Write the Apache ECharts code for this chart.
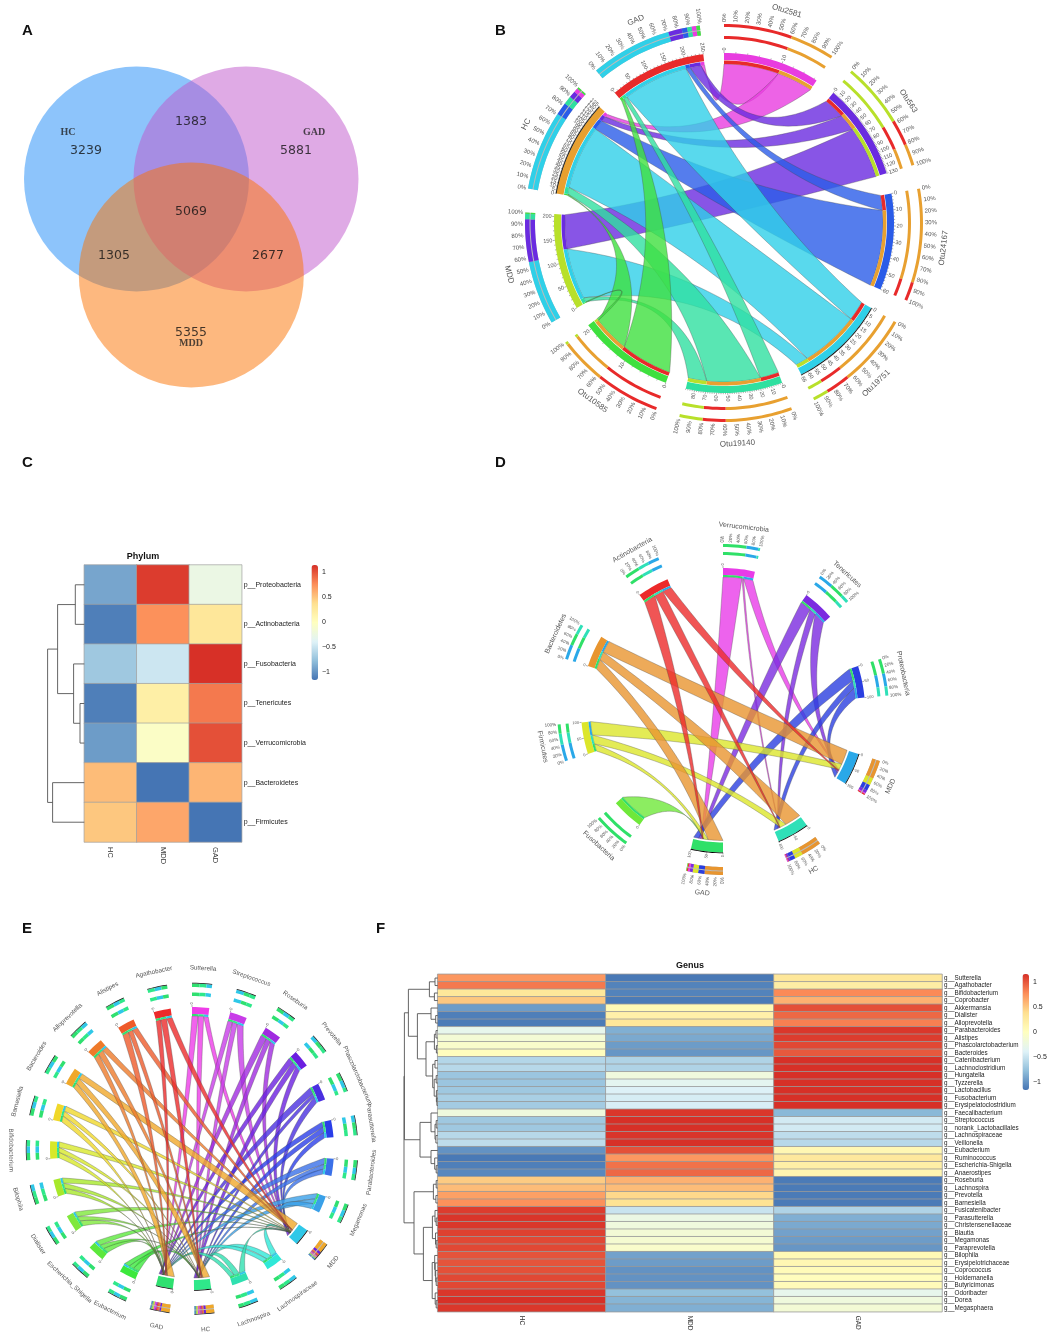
<!DOCTYPE html>
<html>
<head>
<meta charset="utf-8">
<script src="https://cdn.jsdelivr.net/npm/echarts@6/dist/echarts.min.js"></script>
<style>html,body{margin:0;padding:0;background:#fff}#main{width:1051px;height:1339px}</style>
</head>
<body>
<div id="main"></div>
<script>
// A - venn
var vennSets = ['HC', 'GAD', 'MDD'];
var vennCounts = [3239, 5881, 5355, 1383, 1305, 2677, 5069];

// C - phylum heatmap
var phylaRows = ['p__Proteobacteria', 'p__Actinobacteria', 'p__Fusobacteria', 'p__Tenericutes', 'p__Verrucomicrobia', 'p__Bacteroidetes', 'p__Firmicutes'];
var heatCols = ['HC', 'MDD', 'GAD'];
var phylaHC = [-0.9, -1.1, -0.7, -1.1, -0.95, 0.55, 0.5];
var phylaMDD = [1.1, 0.75, -0.48, 0.2, -0.05, -1.15, 0.65];
var phylaGAD = [-0.25, 0.3, 1.15, 0.85, 1.02, 0.58, -1.15];
// merges as [height, left, right], 0 is a leaf
var phylaTree = [36.7, [26.7, [9, 0, 0], [10.7, 0, [4.3, 0, 0]]], [31.7, 0, 0]];

// F - genus heatmap
var genusRows = ['g__Sutterella', 'g__Agathobacter', 'g__Bifidobacterium', 'g__Coprobacter', 'g__Akkermansia', 'g__Dialister', 'g__Alloprevotella', 'g__Parabacteroides', 'g__Alistipes', 'g__Phascolarctobacterium', 'g__Bacteroides', 'g__Catenibacterium', 'g__Lachnoclostridium', 'g__Hungatella', 'g__Tyzzerella', 'g__Lactobacillus', 'g__Fusobacterium', 'g__Erysipelatoclostridium', 'g__Faecalibacterium', 'g__Streptococcus', 'g__norank_Lactobacillales', 'g__Lachnospiraceae', 'g__Veillonella', 'g__Eubacterium', 'g__Ruminococcus', 'g__Escherichia-Shigella', 'g__Anaerostipes', 'g__Roseburia', 'g__Lachnospira', 'g__Prevotella', 'g__Barnesiella', 'g__Fusicatenibacter', 'g__Parasutterella', 'g__Christensenellaceae', 'g__Blautia', 'g__Megamonas', 'g__Paraprevotella', 'g__Bilophila', 'g__Erysipelotrichaceae', 'g__Coprococcus', 'g__Holdemanella', 'g__Butyricimonas', 'g__Odoribacter', 'g__Dorea', 'g__Megasphaera'];
var genusHC = [0.72, 0.85, 0.3, 0.5, -0.95, -1.1, -1.12, -0.3, -0.15, -0.08, 0.02, -0.6, -0.58, -0.72, -0.72, -0.7, -0.65, -0.68, -0.2, -0.7, -0.7, -0.58, -0.55, -1.0, -1.13, -1.1, -1.05, 0.48, 0.55, 0.68, 0.75, 1.1, 1.13, 1.12, 1.08, 1.05, 1.05, 1.0, 1.0, 1.02, 1.05, 1.05, 1.12, 1.15, 1.12];
var genusMDD = [-1.13, -1.08, -1.08, -1.12, 0.08, 0.18, 0.3, -0.85, -0.88, -0.95, -0.98, -0.62, -0.62, -0.2, -0.33, -0.4, -0.43, -0.42, 1.12, 1.15, 1.15, 1.13, 1.15, 1.02, 0.72, 0.88, 0.92, 0.6, 0.55, 0.42, 0.35, -0.5, -0.25, -0.2, -0.15, -0.12, -0.08, -0.92, -0.95, -1.0, -1.0, -1.0, -0.75, -0.82, -0.85];
var genusGAD = [0.3, 0.22, 0.78, 0.6, 1.02, 0.92, 0.82, 1.12, 1.1, 1.05, 0.98, 1.15, 1.15, 1.15, 1.15, 1.15, 1.15, 1.15, -0.8, -0.45, -0.45, -0.55, -0.58, 0.1, 0.28, 0.2, 0.12, -1.12, -1.12, -1.12, -1.12, -0.62, -0.85, -0.88, -0.92, -0.95, -0.98, 0.08, 0.1, 0.05, 0.02, 0.05, -0.3, -0.2, -0.15];
var genusTree = [33.7,
  [33.3,
    [29.3,
      [8.3, [2.7, 0, 0], [3.3, 0, 0]],
      [20.3,
        [6.7, 0, [2, 0, 0]],
        [11.7,
          [3.3, [1.7, 0, 0], [1.3, 0, 0]],
          [5, [2.7, 0, 0], [3.5, [1.5, 0, 0], [1.3, 0, [0.8, 0, 0]]]]]]],
    [17.7,
      [6.7, 0, [2.7, [1.5, 0, 0], [1.8, 0, 0]]],
      [6.7, 0, [3, 0, [1.5, 0, 0]]]]],
  [23.7,
    [4.3, [1.5, 0, 0], [1.8, 0, 0]],
    [14.3,
      [5.3, [2.7, 0, [1.5, 0, 0]], [2.2, 0, [1.5, 0, 0]]],
      [5.5, [3, 0, [2.5, 0, [2, 0, [1.5, 0, 0]]]], [2.5, 0, [1.5, 0, 0]]]]]];
var heatColors = ['#4575b4', '#91bfdb', '#e0f3f8', '#ffffbf', '#fee090', '#fc8d59', '#d73027'];
var barTicks = [-1, -0.5, 0, 0.5, 1];

// B - otu chord. Each node lists its ribbons clockwise: [other node, width in that node's own units]
var otuNodes = ['Otu2581', 'Otu563', 'Otu24167', 'Otu19751', 'Otu19140', 'Otu10585', 'MDD', 'HC', 'GAD'];
var otuColors = ['#e83ce0', '#6a2be0', '#2a5ce8', '#2fd0e8', '#2fe0a0', '#3fe03f', '#b8e02a', '#e8a030', '#e82a2a'];
var otuEnds = {
  Otu2581: [['GAD', 10], ['HC', 6.5]],
  Otu563: [['GAD', 30], ['HC', 25], ['MDD', 75]],
  Otu24167: [['GAD', 10], ['HC', 50]],
  Otu19751: [['GAD', 14], ['HC', 42], ['MDD', 9]],
  Otu19140: [['GAD', 18], ['HC', 52], ['MDD', 18]],
  Otu10585: [['GAD', 12], ['HC', 8.5], ['MDD', 0.5]],
  MDD: [['Otu10585', 2], ['Otu19140', 10], ['Otu19751', 116], ['Otu563', 77]],
  HC: [['Otu10585', 2], ['Otu19140', 10], ['Otu19751', 95], ['Otu24167', 15], ['Otu563', 8], ['Otu2581', 5]],
  GAD: [['Otu10585', 8], ['Otu19140', 10], ['Otu19751', 180], ['Otu24167', 12], ['Otu563', 30], ['Otu2581', 10]]
};
var otuTickStep = { Otu2581: 10, Otu563: 10, Otu24167: 10, Otu19751: 5, Otu19140: 10, Otu10585: 10, MDD: 50, HC: 5, GAD: 50 };

// D - phylum chord
var phylaNodes = ['Verrucomicrobia', 'Tenericutes', 'Proteobacteria', 'MDD', 'HC', 'GAD', 'Fusobacteria', 'Firmicutes', 'Bacteroidetes', 'Actinobacteria'];
var phylaColors = ['#e83ce8', '#7b2be0', '#2a3ee0', '#2aa8e8', '#2fe0b8', '#2fe068', '#6fe83a', '#dce62a', '#e8952f', '#ec2a2a'];
var phylaEnds = {
  Verrucomicrobia: [['GAD', 60], ['HC', 5], ['MDD', 30]],
  Tenericutes: [['GAD', 38], ['HC', 22], ['MDD', 40]],
  Proteobacteria: [['GAD', 40], ['HC', 25], ['MDD', 35]],
  MDD: [['Bacteroidetes', 50], ['Firmicutes', 20], ['Verrucomicrobia', 3], ['Actinobacteria', 3], ['Tenericutes', 8], ['Proteobacteria', 16]],
  HC: [['Bacteroidetes', 55], ['Firmicutes', 22], ['Actinobacteria', 2], ['Verrucomicrobia', 2], ['Tenericutes', 5], ['Proteobacteria', 14]],
  GAD: [['Bacteroidetes', 50], ['Firmicutes', 15], ['Fusobacteria', 2], ['Actinobacteria', 3], ['Verrucomicrobia', 5], ['Tenericutes', 8], ['Proteobacteria', 17]],
  Fusobacteria: [['GAD', 100]],
  Firmicutes: [['GAD', 25], ['HC', 30], ['MDD', 45]],
  Bacteroidetes: [['GAD', 33], ['HC', 27], ['MDD', 40]],
  Actinobacteria: [['GAD', 40], ['HC', 30], ['MDD', 30]]
};
var phylaTickStep = { Firmicutes: 50, Proteobacteria: 50, MDD: 50, HC: 50, GAD: 50 };

// E - genus chord
var genusNodes = ['Sutterella', 'Streptococcus', 'Roseburia', 'Prevotella', 'Phascolarctobacterium', 'Parasutterella', 'Parabacteroides', 'Megamonas', 'MDD', 'Lachnospiraceae', 'Lachnospira', 'HC', 'GAD', 'Eubacterium', 'Escherichia_Shigella', 'Dialister', 'Bilophila', 'Bifidobacterium', 'Barnesiella', 'Bacteroides', 'Alloprevotella', 'Alistipes', 'Agathobacter'];
var genusColors = ['#ee3ce8', '#c83ce8', '#a02be0', '#6a1fe0', '#4a2fe0', '#2a3ee8', '#3a70e8', '#3aa0e8', '#2fc8e8', '#2fe8d8', '#2fe0b0', '#2fe88a', '#2fe070', '#3ce83c', '#5ce83c', '#80e83c', '#a8e82a', '#d8e82a', '#f0d82a', '#f0a82a', '#ee7a2a', '#ee5a2a', '#ec2a2a'];
var genusTaxa = ['Sutterella', 'Streptococcus', 'Roseburia', 'Prevotella', 'Phascolarctobacterium', 'Parasutterella', 'Parabacteroides', 'Megamonas', 'Lachnospiraceae', 'Lachnospira', 'Eubacterium', 'Escherichia_Shigella', 'Dialister', 'Bilophila', 'Bifidobacterium', 'Barnesiella', 'Bacteroides', 'Alloprevotella', 'Alistipes', 'Agathobacter'];
var taxonToGAD = [38, 30, 38, 33, 40, 33, 38, 35, 30, 28, 38, 35, 36, 34, 36, 38, 32, 34, 40, 30];
var taxonToHC = [34, 30, 30, 33, 22, 33, 30, 32, 33, 34, 30, 30, 30, 33, 30, 30, 34, 34, 28, 36];
var taxonToMDD = [28, 40, 32, 34, 38, 34, 32, 33, 37, 38, 32, 35, 34, 33, 34, 32, 34, 32, 32, 34];
var widthAtGAD = [3, 3, 4, 6, 1, 1, 1, 0.6, 0.4, 0.6, 1, 1.2, 1.5, 1, 1.5, 2, 32, 4, 4, 4];
var widthAtHC = [3, 3, 4, 8, 1, 1, 1, 0.6, 0.4, 0.6, 1, 1, 1.5, 1, 1.5, 2, 30, 4, 3, 4];
var widthAtMDD = [2, 2, 3, 10, 1, 1, 1, 1, 0.4, 0.6, 1, 1, 1.5, 1, 1, 2, 38, 3, 3, 3];
var groupStackOrder = ['Bacteroides', 'Alloprevotella', 'Alistipes', 'Agathobacter', 'Barnesiella', 'Bifidobacterium', 'Bilophila', 'Dialister', 'Escherichia_Shigella', 'Eubacterium', 'Lachnospira', 'Lachnospiraceae', 'Megamonas', 'Parabacteroides', 'Parasutterella', 'Phascolarctobacterium', 'Sutterella', 'Streptococcus', 'Roseburia', 'Prevotella'];

var genusEnds = {};
genusTaxa.forEach(function (t, i) {
  var toG = ['GAD', taxonToGAD[i]], toH = ['HC', taxonToHC[i]], toM = ['MDD', taxonToMDD[i]];
  // the two taxa just after MDD face it first
  genusEnds[t] = (t === 'Lachnospiraceae' || t === 'Lachnospira') ? [toM, toH, toG] : [toG, toH, toM];
});
genusEnds.GAD = groupStackOrder.map(function (t) { return [t, widthAtGAD[genusTaxa.indexOf(t)]]; });
genusEnds.HC = groupStackOrder.map(function (t) { return [t, widthAtHC[genusTaxa.indexOf(t)]]; });
genusEnds.MDD = groupStackOrder.map(function (t) { return [t, widthAtMDD[genusTaxa.indexOf(t)]]; });

function sumEnds(list) {
  return list.reduce(function (s, e) { return s + e[1]; }, 0);
}

// turns one panel's node table into a flat list of things to draw
function buildChord(p) {
  var items = [];
  var groups = ['MDD', 'HC', 'GAD'];
  var pos = {};
  p.nodes.forEach(function (name, i) {
    var start = i * p.period;
    var total = sumEnds(p.ends[name]);
    var k = p.span / total;
    var acc = start;
    pos[name] = { start: start, k: k, total: total, color: p.colors[i], at: {} };
    p.ends[name].forEach(function (e) {
      pos[name].at[e[0]] = [acc, acc + e[1] * k];
      acc += e[1] * k;
    });
  });

  // ribbons, taxa go out to groups
  p.nodes.forEach(function (name) {
    if (groups.indexOf(name) >= 0) return;
    p.ends[name].forEach(function (e) {
      var a = pos[name].at[e[0]];
      var b = pos[e[0]].at[name];
      items.push({ type: 'ribbon', a: a, b: b, color: pos[name].color, r: p.rib, rb: p.groupRib || p.rib });
    });
  });

  p.nodes.forEach(function (name) {
    var n = pos[name];
    var isGroup = groups.indexOf(name) >= 0;
    var rings = isGroup ? p.groupRings : p.rings;
    var arcR = (isGroup && p.groupNode) || p.node;
    items.push({ type: 'band', r0: arcR[0], r1: arcR[1], a0: n.start, a1: n.start + p.span, color: n.color });
    if (p.edges && p.edges.indexOf(name) >= 0) {
      items.push({ type: 'band', r0: arcR[1], r1: arcR[1] + 0.8, a0: n.start, a1: n.start + p.span, color: '#000' });
    }
    // thin ring next to the ribbons
    if (!isGroup || p.groupThin) {
      p.ends[name].forEach(function (e) {
        var at = n.at[e[0]];
        items.push({ type: 'band', r0: p.thin[0], r1: p.thin[1], a0: at[0], a1: at[1], color: pos[e[0]].color });
      });
    }
    // the two percent rings, largest share first
    var sorted = p.ends[name].slice().sort(function (x, y) { return y[1] - x[1]; });
    if (isGroup) {
      items.push({ type: 'band', r0: rings[0][0], r1: rings[1][1], a0: n.start, a1: n.start + p.span, color: '#bbb' });
    }
    rings.forEach(function (ring, ri) {
      var acc = n.start;
      sorted.forEach(function (e) {
        var w = e[1] * n.k;
        items.push({ type: 'band', r0: ring[0], r1: ring[1], a0: acc, a1: acc + w, color: pos[e[0]].color });
        acc += w;
      });
      if (p.ringEdge && ri === 1) {
        items.push({ type: 'band', r0: ring[1], r1: ring[1] + 0.7, a0: n.start, a1: n.start + p.span, color: '#111' });
      }
    });
    // percent labels outside the rings
    if (p.pctStep) {
      for (var q = 0; q <= 100; q += p.pctStep) {
        items.push({ type: 'radial', r: p.pctR, a: n.start + p.span * q / 100, text: q + '%', size: p.pctSize });
      }
    }
    // node axis
    var step = p.ticks[name];
    var major = step || n.total * 2;
    for (var v = 0; v <= n.total + 0.001; v += major) {
      var ang = n.start + v * n.k;
      items.push({ type: 'tick', r0: arcR[1], r1: arcR[1] + 2, a: ang });
      items.push({ type: 'radial', r: arcR[1] + 2.5, a: ang, text: String(v), size: p.tickSize });
      if (step && p.minor) {
        for (var m = 1; m < 5; m++) {
          var am = ang + m * step / 5 * n.k;
          if (am <= n.start + p.span) items.push({ type: 'tick', r0: arcR[1], r1: arcR[1] + 1.2, a: am });
        }
      }
    }
    items.push({ type: 'name', r: p.nameR, a: n.start + p.span / 2, text: name, size: p.nameSize });
  });
  return items;
}

function renderChord(items, p) {
  return function (params, api) {
    var it = items[params.dataIndex];
    var xy = function (r, a) { return api.coord([r, a]).slice(0, 2); };
    if (it.type === 'band') {
      var pts = [], n = Math.max(2, Math.ceil((it.a1 - it.a0) / 1.5)), i;
      for (i = 0; i <= n; i++) pts.push(xy(it.r1, it.a0 + (it.a1 - it.a0) * i / n));
      for (i = n; i >= 0; i--) pts.push(xy(it.r0, it.a0 + (it.a1 - it.a0) * i / n));
      return { type: 'polygon', shape: { points: pts }, style: { fill: it.color } };
    }
    if (it.type === 'ribbon') {
      var out = [];
      var arc = function (r, from, to) {
        var c = Math.max(2, Math.ceil((to - from) / 1.5));
        for (var j = 0; j <= c; j++) out.push(xy(r, from + (to - from) * j / c));
      };
      // each edge bows towards the middle by a share of how far its chord stays from the centre
      var curve = function (r0, from, r1, to) {
        var d = ((to - from + 540) % 360) - 180;
        var mid = (from + d / 2 + 360) % 360;
        var ctrl = xy(p.bend * r0 * Math.cos(d / 2 * Math.PI / 180), mid);
        var s = xy(r0, from), e = xy(r1, to);
        for (var j = 1; j < 40; j++) {
          var t = j / 40, u = 1 - t;
          out.push([u * u * s[0] + 2 * u * t * ctrl[0] + t * t * e[0], u * u * s[1] + 2 * u * t * ctrl[1] + t * t * e[1]]);
        }
      };
      arc(it.r, it.a[0], it.a[1]);
      curve(it.r, it.a[1], it.rb, it.b[0]);
      arc(it.rb, it.b[0], it.b[1]);
      curve(it.rb, it.b[1], it.r, it.a[0]);
      return {
        type: 'polygon',
        shape: { points: out },
        style: { fill: it.color, opacity: 0.8, stroke: '#444', lineWidth: 0.4 }
      };
    }
    if (it.type === 'tick') {
      var t0 = xy(it.r0, it.a), t1 = xy(it.r1, it.a);
      return { type: 'line', shape: { x1: t0[0], y1: t0[1], x2: t1[0], y2: t1[1] }, style: { stroke: '#333', lineWidth: 0.4 } };
    }
    // text, either pointing outwards or following the circle
    var at = xy(it.r, it.a), rot, align;
    if (it.type === 'radial') {
      var right = it.a < 180;
      rot = (right ? 90 - it.a : 270 - it.a) * Math.PI / 180;
      align = right ? 'left' : 'right';
    } else {
      var deg = (it.a > 90 && it.a < 270) ? it.a - 180 : it.a;
      rot = -deg * Math.PI / 180;
      align = 'center';
    }
    return {
      type: 'text', x: at[0], y: at[1], rotation: rot,
      style: { text: it.text, fontSize: it.size, fontFamily: 'Liberation Sans', fill: '#555', align: align, verticalAlign: 'middle' }
    };
  };
}

var chordPanels = [
  {
    nodes: otuNodes, colors: otuColors, ends: otuEnds, ticks: otuTickStep, center: [724, 223], period: 40, span: 33, bend: 0.55,
    rib: 159, thin: [159, 162.5], node: [163, 170], rings: [[184, 187], [196, 199]], groupRings: [[189, 193.5], [194.5, 199]],
    groupThin: true, pctStep: 10, pctR: 201, pctSize: 6, tickSize: 5.5, nameR: 221, nameSize: 8, minor: true, edges: ['HC', 'Otu19751']
  },
  {
    nodes: phylaNodes, colors: phylaColors, ends: phylaEnds, ticks: phylaTickStep, center: [723, 710], period: 36, span: 13, bend: 0.75,
    rib: 133, groupRib: 130.5, thin: [133, 135], node: [135, 142], groupNode: [132.5, 142.5], edges: ['MDD', 'HC', 'GAD'],
    rings: [[155, 158], [163, 166]], groupRings: [[157, 160.5], [161.5, 165]],
    groupThin: false, pctStep: 20, pctR: 167.5, pctSize: 4.5, tickSize: 4, nameR: 184, nameSize: 7, minor: false
  },
  {
    nodes: genusNodes, colors: genusColors, ends: genusEnds, ticks: {}, center: [192, 1149], period: 360 / 23, span: 7, bend: 0.65,
    rib: 133, groupRib: 129, thin: [133, 135], node: [135, 142], groupNode: [131, 141], edges: ['MDD', 'HC', 'GAD'],
    rings: [[153, 156.5], [162, 165.5]], groupRings: [[157, 160.5], [161.5, 165]],
    groupThin: false, pctStep: 0, tickSize: 4, nameR: 181, nameSize: 6.3, minor: false, ringEdge: true
  }
];

// cluster tree to polylines, leaves take the row positions in order
function treeSegments(node, state, segs) {
  if (!node) {
    state.row += 1;
    return { x: 0, y: state.row - 1 };
  }
  var l = treeSegments(node[1], state, segs);
  var r = treeSegments(node[2], state, segs);
  segs.push([[l.x, l.y], [node[0], l.y], [node[0], r.y], [r.x, r.y]]);
  return { x: node[0], y: (l.y + r.y) / 2 };
}

function heatData(a, b, c) {
  var out = [];
  a.forEach(function (v, i) {
    out.push([0, i, v], [1, i, b[i]], [2, i, c[i]]);
  });
  return out;
}

function treeSeries(tree, gridIndex) {
  var segs = [];
  treeSegments(tree, { row: 0 }, segs);
  return {
    type: 'custom', xAxisIndex: gridIndex, yAxisIndex: gridIndex, silent: true, clip: false,
    data: segs.map(function (s, i) { return [s[1][0], s[1][1], i]; }),
    encode: { x: 0, y: 1 },
    renderItem: function (params, api) {
      return {
        type: 'polyline',
        shape: { points: segs[params.dataIndex].map(function (pt) { return api.coord(pt); }) },
        style: { stroke: '#555', lineWidth: 0.9, fill: null }
      };
    }
  };
}

// grids: 0 C heat, 1 F heat, 2 C tree, 3 F tree, 4 C bar, 5 F bar, 6 venn
var cGrid = { left: 84.3, top: 565, width: 157.4, height: 277 };
var fGrid = { left: 437.7, top: 974.3, width: 504.3, height: 337.4 };

function catAxes(gridIndex, rows, fontX, fontY, marginX) {
  return {
    x: {
      type: 'category', gridIndex: gridIndex, data: heatCols, axisLine: { show: false }, axisTick: { show: false }, splitLine: { show: false },
      axisLabel: { rotate: -90, fontSize: fontX, fontFamily: 'Liberation Sans', color: '#333', margin: marginX }
    },
    y: {
      type: 'category', gridIndex: gridIndex, data: rows, inverse: true, position: 'right', axisLine: { show: false }, axisTick: { show: false }, splitLine: { show: false },
      axisLabel: { fontSize: fontY, interval: 0, fontFamily: 'Liberation Sans', color: '#222', margin: 2 }
    }
  };
}
var cAxes = catAxes(0, phylaRows, 7.5, 7, 5);
var fAxes = catAxes(1, genusRows, 6.5, 6.3, 4);

function hiddenValue(gridIndex, min, max, inverse) {
  return { type: 'value', gridIndex: gridIndex, min: min, max: max, inverse: !!inverse, show: false, splitLine: { show: false } };
}
function barAxis(gridIndex, min, max) {
  return {
    type: 'value', gridIndex: gridIndex, min: min, max: max, position: 'right', splitLine: { show: false },
    axisLine: { show: false }, axisTick: { show: false },
    axisLabel: {
      customValues: barTicks, fontSize: 7, fontFamily: 'Liberation Sans', color: '#222', margin: 3,
      formatter: function (v) { return String(v).replace('-', '\u2212'); }
    }
  };
}

var series = [
  {
    type: 'heatmap', xAxisIndex: 0, yAxisIndex: 0, data: heatData(phylaHC, phylaMDD, phylaGAD), silent: true, progressive: 0,
    itemStyle: { borderColor: '#a0a0a0', borderWidth: 0.7 }
  },
  {
    type: 'heatmap', xAxisIndex: 1, yAxisIndex: 1, data: heatData(genusHC, genusMDD, genusGAD), silent: true, progressive: 0,
    itemStyle: { borderColor: '#999', borderWidth: 0.8 }
  },
  treeSeries(phylaTree, 2),
  treeSeries(genusTree, 3)
];

// venn circles and their numbers
var vennCenters = [[136.5, 179], [246, 179], [191.3, 275]];
var vennFill = ['rgb(27,137,247)', 'rgb(191,85,203)', 'rgb(252,113,0)'];
var vennCountAt = [[86, 151], [296, 151], [191, 333], [191, 122], [114, 256], [268, 256], [191, 212]];
var vennNameAt = [[68, 132], [314, 132], [191, 343]];
series.push({
  type: 'scatter', xAxisIndex: 6, yAxisIndex: 6, symbolSize: 225, silent: true,
  data: vennSets.map(function (s, i) {
    return { value: vennCenters[i], name: s, itemStyle: { color: vennFill[i], opacity: 0.5 } };
  })
});
series.push({
  type: 'scatter', xAxisIndex: 6, yAxisIndex: 6, symbolSize: 0, silent: true,
  label: { show: true, position: 'inside', fontSize: 12.5, fontFamily: 'DejaVu Sans', color: '#111', formatter: '{b}' },
  data: vennCounts.map(function (c, i) { return { value: vennCountAt[i], name: String(c) }; })
});
series.push({
  type: 'scatter', xAxisIndex: 6, yAxisIndex: 6, symbolSize: 0, silent: true,
  label: { show: true, position: 'inside', fontSize: 10, fontWeight: 'bold', fontFamily: 'Liberation Serif', color: '#222', formatter: '{b}' },
  data: vennSets.map(function (s, i) { return { value: vennNameAt[i], name: s }; })
});

var polar = [], angleAxis = [], radiusAxis = [];
chordPanels.forEach(function (p, i) {
  var outer = p.node[1];
  polar.push({ center: p.center, radius: [0, outer] });
  angleAxis.push({ polarIndex: i, type: 'value', min: 0, max: 360, startAngle: 90, clockwise: true, show: false });
  radiusAxis.push({ polarIndex: i, type: 'value', min: 0, max: outer, show: false });
  var items = buildChord(p);
  series.push({
    type: 'custom', coordinateSystem: 'polar', polarIndex: i, silent: true, clip: false, progressive: 0,
    data: items.map(function () { return [p.rib, 0]; }),
    encode: { radius: 0, angle: 1 },
    renderItem: renderChord(items, p)
  });
});

function letter(t, x, y) {
  return { text: t, left: x, top: y, padding: 0, textStyle: { fontSize: 15, fontWeight: 'bold', fontFamily: 'Liberation Sans', color: '#111' } };
}
function heading(t, x, y) {
  return { text: t, left: x, top: y, padding: 0, textAlign: 'center', textStyle: { fontSize: 9, fontWeight: 'bold', fontFamily: 'Liberation Sans', color: '#111' } };
}

var option = {
  backgroundColor: '#fff',
  animation: false,
  title: [
    letter('A', 22, 23), letter('B', 495, 23), letter('C', 22, 455), letter('D', 495, 455), letter('E', 22, 921), letter('F', 376, 921),
    heading('Phylum', 143, 552), heading('Genus', 690, 961)
  ],
  grid: [
    cGrid, fGrid,
    { left: 44.3, top: 565, width: 40, height: 277 },
    { left: 403, top: 974.3, width: 34.7, height: 337.4 },
    { left: 318, top: 565, width: 1, height: 115 },
    { left: 1029, top: 974, width: 1, height: 116 },
    { left: 0, top: 0, width: 1051, height: 1339 }
  ],
  xAxis: [
    cAxes.x, fAxes.x,
    hiddenValue(2, 0, 40, true), hiddenValue(3, 0, 34.7, true),
    hiddenValue(4, 0, 1), hiddenValue(5, 0, 1),
    hiddenValue(6, 0, 1051)
  ],
  yAxis: [
    cAxes.y, fAxes.y,
    hiddenValue(2, -0.5, 6.5, true), hiddenValue(3, -0.5, 44.5, true),
    barAxis(4, -1.15, 1.15), barAxis(5, -1.16, 1.16),
    hiddenValue(6, 0, 1339, true)
  ],
  polar: polar,
  angleAxis: angleAxis,
  radiusAxis: radiusAxis,
  visualMap: [
    { type: 'continuous', seriesIndex: 0, min: -1.15, max: 1.15, inRange: { color: heatColors }, left: 311.5, top: 565, itemWidth: 6.5, itemHeight: 115, padding: 0, calculable: false },
    { type: 'continuous', seriesIndex: 1, min: -1.15, max: 1.15, inRange: { color: heatColors }, left: 1022.5, top: 974, itemWidth: 6.5, itemHeight: 116, padding: 0, calculable: false }
  ],
  series: series
};

var chart = echarts.init(document.getElementById('main'));
chart.setOption(option);
</script>
</body>
</html>
